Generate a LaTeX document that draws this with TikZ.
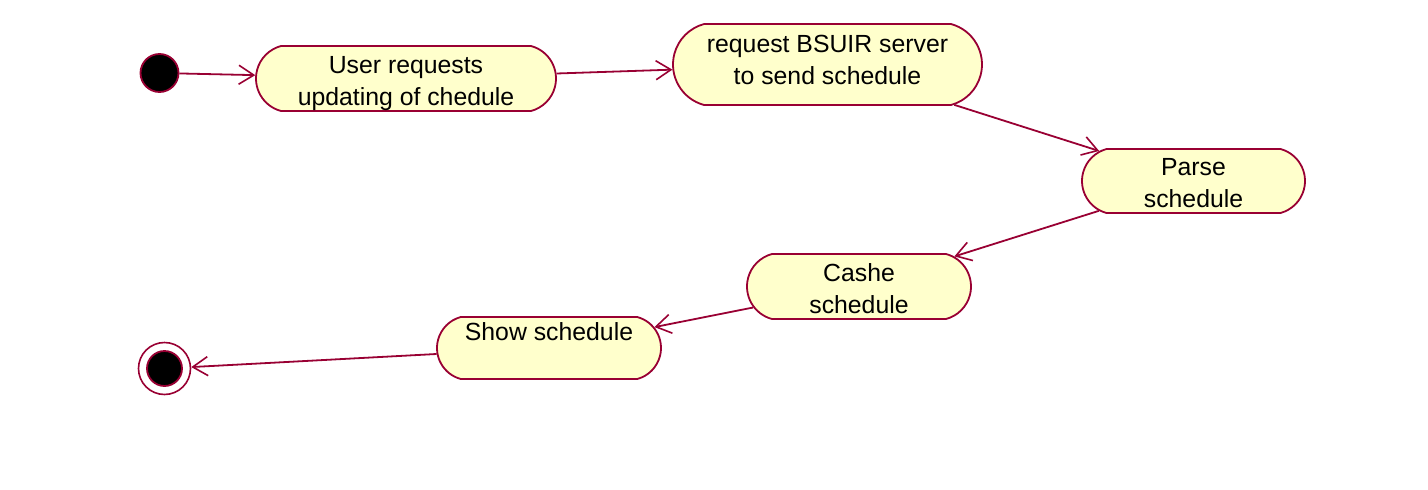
\documentclass[tikz,border=0pt]{standalone}
\usepackage{fontspec}
\setmainfont{Liberation Sans}
\usetikzlibrary{arrows.meta,shapes.misc}
\definecolor{umlborder}{RGB}{153,0,51}
\definecolor{umlfill}{RGB}{255,255,204}
\begin{document}
\begin{tikzpicture}[x=1pt,y=-1pt,
  activity/.style={rounded rectangle, rounded rectangle arc length=150,
    draw=umlborder, fill=umlfill, line width=1.8pt, inner sep=0pt,
    align=center, font=\fontsize{24.8}{32}\selectfont},
  flow/.style={draw=umlborder, line width=1.8pt,
    -{Straight Barb[length=15pt,width=19pt,line width=1.6pt]}},
  startnode/.style={circle, fill=black, draw=umlborder, line width=1.8pt,
    inner sep=0pt, minimum size=38pt},
  endouter/.style={circle, draw=umlborder, line width=1.6pt,
    inner sep=0pt, minimum size=52pt},
  endinner/.style={circle, fill=black, draw=umlborder, line width=1.8pt,
    inner sep=0pt, minimum size=35pt}]
\useasboundingbox (0,0) rectangle (1428,490);
\fill[white] (0,0) rectangle (1428,490);
\node[startnode] (start) at (159.5,73) {};
\node[activity, minimum width=300pt, minimum height=63pt] (A) at (406,78.5)
  {\rule{0pt}{27.8pt}User requests\\updating of chedule};
\node[activity, minimum width=309pt, minimum height=81pt] (B) at (827.5,64.5)
  {request BSUIR server\\to send schedule\rule[-10pt]{0pt}{10pt}};
\node[activity, minimum width=223pt, minimum height=64pt] (C) at (1193.5,181)
  {\rule{0pt}{21.8pt}Parse\\schedule};
\node[activity, minimum width=224pt, minimum height=65pt] (D) at (859,286.5)
  {\rule{0pt}{21.8pt}Cashe\\schedule};
\node[activity, minimum width=224pt, minimum height=62pt] (E) at (549,348)
  {Show schedule\\\mbox{}};
\node[endouter] (endo) at (164.5,368.5) {};
\node[endinner] (endi) at (164.5,368.5) {};
\draw[flow] (start) -- (A);
\draw[flow] (A) -- (B);
\draw[flow] (B) -- (C);
\draw[flow] (C) -- (D);
\draw[flow] (D) -- (E);
\draw[flow] (E) -- (endo);
\end{tikzpicture}
\end{document}
